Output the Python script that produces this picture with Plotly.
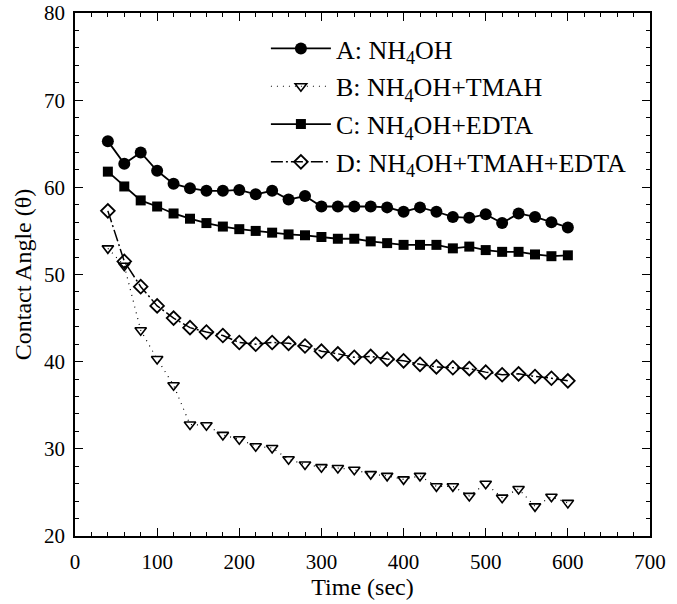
import plotly.graph_objects as go

time_s = [40, 60, 80, 100, 120, 140, 160, 180, 200, 220, 240, 260, 280, 300, 320,
          340, 360, 380, 400, 420, 440, 460, 480, 500, 520, 540, 560, 580, 600]

a_nh4oh = [65.3, 62.7, 64.0, 61.9, 60.4, 59.9, 59.6, 59.6, 59.7, 59.2, 59.6, 58.6, 59.0, 57.8, 57.8,
           57.8, 57.8, 57.7, 57.2, 57.7, 57.2, 56.6, 56.5, 56.9, 55.9, 57.0, 56.6, 56.0, 55.4]
b_tmah = [53.0, 51.0, 43.6, 40.3, 37.3, 32.8, 32.7, 31.6, 31.1, 30.3, 30.1, 28.8, 28.2, 27.9, 27.8,
          27.6, 27.1, 26.9, 26.5, 26.9, 25.7, 25.7, 24.6, 26.0, 24.4, 25.4, 23.4, 24.5, 23.8]
c_edta = [61.8, 60.1, 58.5, 57.8, 57.0, 56.4, 55.9, 55.5, 55.2, 55.0, 54.8, 54.6, 54.5, 54.3, 54.1,
          54.1, 53.8, 53.6, 53.4, 53.4, 53.4, 53.0, 53.2, 52.8, 52.6, 52.6, 52.3, 52.1, 52.2]
d_tmah_edta = [57.3, 51.5, 48.6, 46.4, 45.0, 43.9, 43.4, 43.0, 42.2, 42.0, 42.2, 42.1, 41.8, 41.2, 40.9,
               40.5, 40.6, 40.3, 40.1, 39.7, 39.4, 39.3, 39.2, 38.8, 38.5, 38.6, 38.3, 38.1, 37.8]

names = ["A: NH<sub>4</sub>OH", "B: NH<sub>4</sub>OH+TMAH",
         "C: NH<sub>4</sub>OH+EDTA", "D: NH<sub>4</sub>OH+TMAH+EDTA"]

FONT = "Liberation Serif, Times New Roman, serif"

fig = go.Figure()
fig.add_trace(go.Scatter(x=time_s, y=a_nh4oh, name=names[0], mode="lines+markers",
                         legendgroup="a",
                         line=dict(color="black", width=1.8),
                         marker=dict(symbol="circle", size=12, color="black")))
fig.add_trace(go.Scatter(x=time_s, y=b_tmah, name=names[1], mode="lines+markers",
                         legendgroup="b",
                         line=dict(color="black", width=1.2, dash="1px,5px"),
                         marker=dict(symbol="triangle-down-open", size=10, color="black",
                                     line=dict(width=1.6))))
fig.add_trace(go.Scatter(x=time_s, y=c_edta, name=names[2], mode="lines+markers",
                         legendgroup="c",
                         line=dict(color="black", width=1.8),
                         marker=dict(symbol="square", size=10, color="black")))
fig.add_trace(go.Scatter(x=time_s, y=d_tmah_edta, name=names[3], mode="lines+markers",
                         legendgroup="d",
                         line=dict(color="black", width=1.5, dash="12px,3px,2px,3px"),
                         marker=dict(symbol="diamond-open", size=10.5, color="black",
                                     line=dict(width=1.8))))

axis_common = dict(
    showline=True, linecolor="black", linewidth=1.5, mirror="ticks",
    ticks="inside", ticklen=8, tickwidth=1.2, tickcolor="black",
    showgrid=False, zeroline=False, automargin=False,
    tickfont=dict(family=FONT, size=21, color="black"),
)

fig.update_xaxes(range=[0, 700], dtick=100, tick0=0, ticklabelstandoff=6,
                 minor=dict(dtick=20, ticks="inside", ticklen=4, tickcolor="black", tickwidth=1),
                 title=dict(text="Time (sec)", font=dict(family=FONT, size=24, color="black"),
                            standoff=4),
                 **axis_common)
fig.update_yaxes(range=[20, 80], dtick=10, tick0=20, ticklabelstandoff=4,
                 minor=dict(dtick=2, ticks="inside", ticklen=4, tickcolor="black", tickwidth=1),
                 title=dict(text="Contact Angle (θ)", font=dict(family=FONT, size=24, color="black"),
                            standoff=6),
                 **axis_common)

fig.update_layout(
    width=677, height=604,
    margin=dict(l=75, r=27, t=13, b=68),
    paper_bgcolor="white", plot_bgcolor="white",
    font=dict(family=FONT, color="black"),
    showlegend=True,
    legend=dict(x=0.332, y=0.977, xanchor="left", yanchor="top",
                bgcolor="rgba(0,0,0,0)", borderwidth=0,
                font=dict(family=FONT, size=26, color="black"),
                itemwidth=60, tracegroupgap=1, traceorder="grouped"),
)

fig.write_html("out.html", config={"displayModeBar": False},
               post_script="document.body.style.margin='0px';")
